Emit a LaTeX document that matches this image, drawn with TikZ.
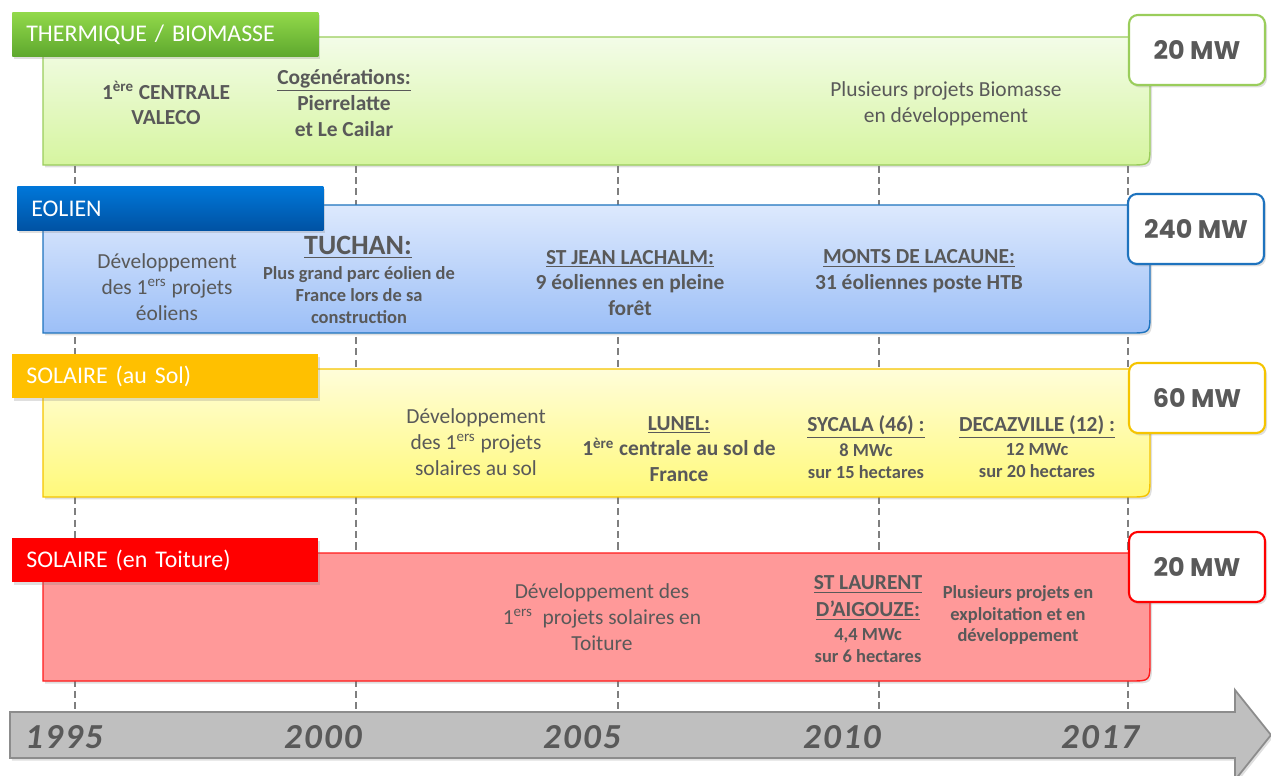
\documentclass[tikz,border=0pt]{standalone}
\usepackage{fontspec}
\setmainfont{Carlito}
\newfontfamily\mwfont{Poppins}
\newfontfamily\yearfont{Carlito}[LetterSpace=6]
\usetikzlibrary{shadows}

\definecolor{txtgray}{HTML}{595959}
\definecolor{guidegray}{HTML}{7F7F7F}
\definecolor{greenline}{HTML}{9ACD5B}
\definecolor{greentop}{HTML}{F3FCE8}
\definecolor{greenbot}{HTML}{D6F5A0}
\definecolor{greentabtop}{HTML}{92D94A}
\definecolor{greentabbot}{HTML}{5EA82E}
\definecolor{blueline}{HTML}{1E73BE}
\definecolor{bluetop}{HTML}{DDE9FD}
\definecolor{bluebot}{HTML}{9CBFF7}
\definecolor{bluetabtop}{HTML}{0077D9}
\definecolor{bluetabbot}{HTML}{0052A3}
\definecolor{yellowline}{HTML}{F5C400}
\definecolor{yellowtop}{HTML}{FFFDD9}
\definecolor{yellowbot}{HTML}{FFF97A}
\definecolor{yellowtab}{HTML}{FFC000}
\definecolor{redline}{HTML}{FF1A1A}
\definecolor{redfill}{HTML}{FF9999}
\definecolor{redtab}{HTML}{FF0000}
\definecolor{arrowfill}{HTML}{BFBFBF}
\definecolor{arrowline}{HTML}{8C8C8C}

\tikzset{
    softshadow/.style={drop shadow={opacity=0.25, shadow xshift=0.4mm, shadow yshift=-0.5mm}},
    bandshape/.style={line width=0.8pt, softshadow},
    tabbox/.style={anchor=north west, minimum height=0.88cm, text width=5.56cm,
        inner xsep=0.28cm, inner ysep=0pt, align=left, text=white,
        font=\fontsize{13.6}{15}\selectfont, softshadow},
    mwbox/.style={draw, fill=white, line width=1.2pt, rounded corners=5pt,
        minimum width=2.72cm, minimum height=1.4cm, text=txtgray,
        font=\mwfont\bfseries\fontsize{14.5}{16}\selectfont, softshadow},
    bodytxt/.style={align=center, text=txtgray, inner sep=0pt,
        font=\fontsize{12.2}{14.7}\selectfont},
    boldtxt/.style={bodytxt, font=\bfseries\fontsize{12.2}{14.7}\selectfont},
    smalltxt/.style={bodytxt, font=\bfseries\fontsize{10.5}{12.5}\selectfont},
    yeartxt/.style={text=txtgray, font=\yearfont\bfseries\itshape\fontsize{20}{24}\selectfont},
    guide/.style={draw=guidegray, line width=1.2pt, dash pattern=on 4pt off 2.5pt}
}

\begin{document}
\begin{tikzpicture}[x=0.02cm, y=-0.02cm]
    \useasboundingbox (0,0) rectangle (1271,776);

    % year guides
    \foreach \x in {75,356,618,879,1128}
        \draw[guide] (\x,40) -- (\x,712);

    % Thermique / biomasse
    \path[bandshape, draw=greenline, top color=greentop, bottom color=greenbot]
        (43,37) -- (1150,37) -- (1150,145) .. controls (1150,165) .. (1130,165) -- (43,165) -- cycle;
    \node[tabbox, top color=greentabtop, bottom color=greentabbot] (tabTherm) at (12,12) {THERMIQUE / BIOMASSE};
    \node[mwbox, draw=greenline] (mwTherm) at (1197,50) {20 MW};
    \node[boldtxt] (valeco) at (166,103) {1\textsuperscript{ère} CENTRALE\\VALECO};
    \node[boldtxt] (cogen) at (344,103) {\underline{Cogénérations:}\\Pierrelatte\\et Le Cailar};
    \node[bodytxt] (biomasse) at (946,104) {Plusieurs projets Biomasse\\en développement};

    % Eolien
    \path[bandshape, draw=blueline, top color=bluetop, bottom color=bluebot]
        (43,205) -- (1150,205) -- (1150,313) .. controls (1150,333) .. (1130,333) -- (43,333) -- cycle;
    \node[tabbox, top color=bluetabtop, bottom color=bluetabbot] (tabEol) at (17,186) {EOLIEN};
    \node[mwbox, draw=blueline] (mwEol) at (1196,229) {240 MW};
    \node[bodytxt] (devEol) at (167,287) {Développement\\des 1\textsuperscript{ers} projets\\éoliens};
    \node[boldtxt, font=\bfseries\fontsize{15.9}{18}\selectfont] (tuchan) at (358,247) {\underline{TUCHAN:}};
    \node[smalltxt] (tuchanTxt) at (359,295) {Plus grand parc éolien de\\France lors de sa\\construction};
    \node[boldtxt] (lachalm) at (630,283) {\underline{ST JEAN LACHALM:}\\9 éoliennes en pleine\\forêt};
    \node[boldtxt] (lacaune) at (919,271) {\underline{MONTS DE LACAUNE:}\\31 éoliennes poste HTB};

    % Solaire au sol
    \path[bandshape, draw=yellowline, top color=yellowtop, bottom color=yellowbot]
        (43,369) -- (1150,369) -- (1150,477) .. controls (1150,497) .. (1130,497) -- (43,497) -- cycle;
    \node[tabbox, fill=yellowtab] (tabSol) at (12,354) {SOLAIRE (au Sol)};
    \node[mwbox, draw=yellowline] (mwSol) at (1197,398) {60 MW};
    \node[bodytxt] (devSol) at (476,442) {Développement\\des 1\textsuperscript{ers} projets\\solaires au sol};
    \node[boldtxt] (lunel) at (679,449) {\underline{LUNEL:}\\1\textsuperscript{ère} centrale au sol de\\France};
    \node[boldtxt] (sycala) at (866,427) {\underline{SYCALA (46) :}};
    \node[smalltxt] (sycalaTxt) at (866,461) {8 MWc\\sur 15 hectares};
    \node[boldtxt] (decaz) at (1037,427) {\underline{DECAZVILLE (12) :}};
    \node[smalltxt] (decazTxt) at (1037,461) {12 MWc\\sur 20 hectares};

    % Solaire en toiture
    \path[bandshape, draw=redline, fill=redfill]
        (43,553) -- (1150,553) -- (1150,661) .. controls (1150,681) .. (1130,681) -- (43,681) -- cycle;
    \node[tabbox, fill=redtab] (tabToit) at (12,538) {SOLAIRE (en Toiture)};
    \node[mwbox, draw=redtab] (mwToit) at (1197,567) {20 MW};
    \node[bodytxt] (devToit) at (602,617) {Développement des\\1\textsuperscript{ers}~ projets solaires en\\Toiture};
    \node[boldtxt, font=\bfseries\fontsize{12.2}{15.3}\selectfont] (laurent) at (868,598) {\underline{ST LAURENT}\\\underline{D’AIGOUZE:}};
    \node[smalltxt] (laurentTxt) at (868,646) {4,4 MWc\\sur 6 hectares};
    \node[smalltxt] (exploit) at (1018,615) {Plusieurs projets en\\exploitation et en\\développement};

    % time arrow
    \draw[fill=arrowfill, draw=arrowline, line width=1pt, softshadow]
        (10,712) -- (1235,712) -- (1235,690) -- (1271,735) -- (1235,780) -- (1235,758) -- (10,758) -- cycle;
    \node[yeartxt] (y1995) at (64,737) {1995};
    \node[yeartxt] (y2000) at (323,737) {2000};
    \node[yeartxt] (y2005) at (582,737) {2005};
    \node[yeartxt] (y2010) at (842,737) {2010};
    \node[yeartxt] (y2017) at (1100,737) {2017};
\end{tikzpicture}
\end{document}
